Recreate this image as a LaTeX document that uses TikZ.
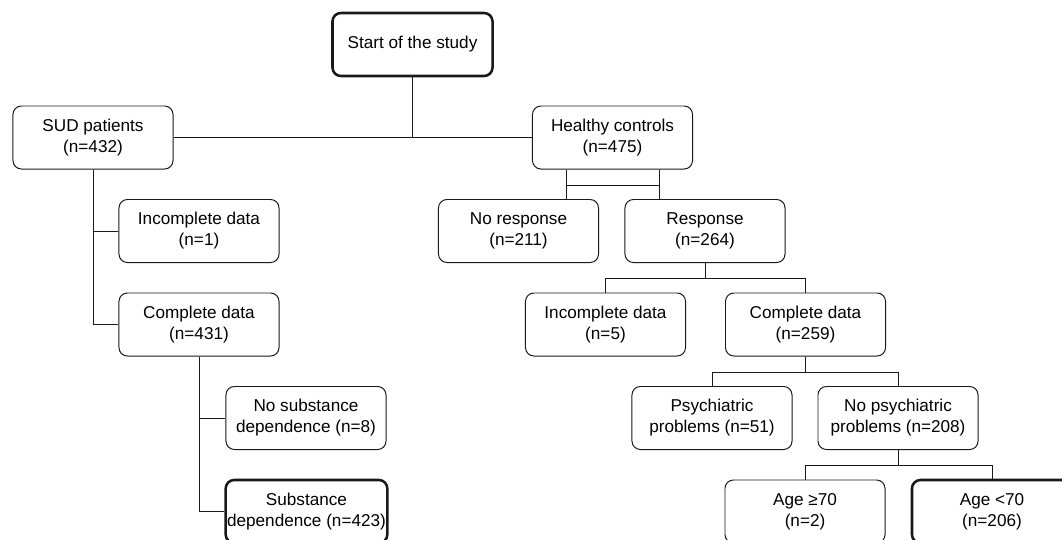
\documentclass[tikz,border=0pt]{standalone}
\usepackage{fontspec}
\setmainfont{Liberation Sans}
\usepackage{tikz}
\tikzset{
    flow-box/.style = {draw=black!90, fill=white, line width=0.7pt, rectangle, rounded corners=6pt, align=center, inner sep=1pt, minimum width=4cm, minimum height=1.575cm, font=\fontsize{12.2}{15}\selectfont},
    flow-box-end/.style = {flow-box, line width=1.8pt},
    flow-line/.style = {draw=black!90, line width=0.7pt},
}

\begin{document}
\begin{tikzpicture}[x=0.025cm, y=-0.025cm]
\useasboundingbox (0,0) rectangle (1062,539);

\node[flow-box-end] (start) at (412.5,44.5) {Start of the study};
\node[flow-box] (sud) at (93,137.5) {SUD patients\\(n=432)};
\node[flow-box] (healthy) at (612.5,137.5) {Healthy controls\\(n=475)};

% SUD branch
\node[flow-box] (incomp-sud) at (199,231) {Incomplete data\\(n=1)};
\node[flow-box] (comp-sud) at (199,324.5) {Complete data\\(n=431)};
\node[flow-box] (no-dep) at (306,418) {No substance\\dependence (n=8)};
\node[flow-box-end] (dep) at (306.5,511.5) {Substance\\dependence (n=423)};

% control branch
\node[flow-box] (no-resp) at (518.5,231) {No response\\(n=211)};
\node[flow-box] (resp) at (705,231) {Response\\(n=264)};
\node[flow-box] (incomp-hc) at (605.5,324.5) {Incomplete data\\(n=5)};
\node[flow-box] (comp-hc) at (805.5,324.5) {Complete data\\(n=259)};
\node[flow-box] (psych) at (712,418) {Psychiatric\\problems (n=51)};
\node[flow-box] (no-psych) at (898,418) {No psychiatric\\problems (n=208)};
\node[flow-box] (age-old) at (805,511.5) {Age ≥70\\(n=2)};
\node[flow-box-end] (age-young) at (992,511.5) {Age <70\\(n=206)};

% connectors
\draw[flow-line] (start.south) -- (start.south |- sud.east);
\draw[flow-line] (sud.east) -- (healthy.west);

\draw[flow-line] (sud.south) |- (comp-sud.west);
\draw[flow-line] (incomp-sud.west) -- (incomp-sud.west -| sud.south);
\draw[flow-line] (comp-sud.south) |- (dep.west);
\draw[flow-line] (no-dep.west) -- (no-dep.west -| comp-sud.south);

\coordinate (hc-left) at ([xshift=-1.1625cm]healthy.south);
\coordinate (hc-right) at ([xshift=1.1625cm]healthy.south);
\draw[flow-line] (hc-left) -- (hc-left |- no-resp.north);
\draw[flow-line] (hc-right) -- (hc-right |- resp.north);
\draw[flow-line] (hc-left) ++(0,15.5) -- ++(93,0);

\draw[flow-line] (resp.south) -- ++(0,15.5) -| (incomp-hc.north);
\draw[flow-line] (resp.south) ++(0,15.5) -| (comp-hc.north);
\draw[flow-line] (comp-hc.south) -- ++(0,15.5) -| (psych.north);
\draw[flow-line] (comp-hc.south) ++(0,15.5) -| (no-psych.north);
\draw[flow-line] (no-psych.south) -- ++(0,15.5) -| (age-old.north);
\draw[flow-line] (no-psych.south) ++(0,15.5) -| (age-young.north);
\end{tikzpicture}
\end{document}
